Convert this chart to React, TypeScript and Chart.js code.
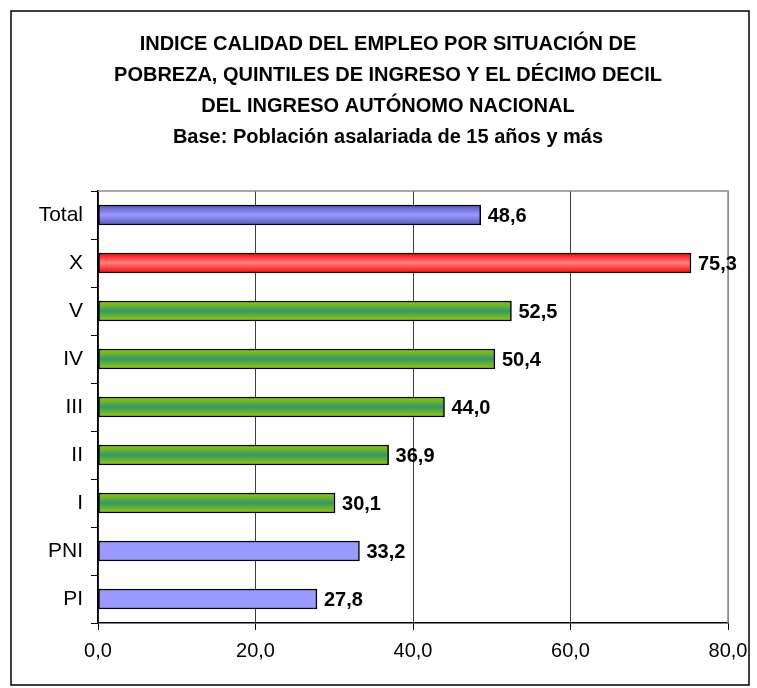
import React, { useEffect, useRef } from "react";
import { Chart, registerables } from "chart.js";

Chart.register(...registerables);

const titleLines = [
  "INDICE CALIDAD DEL EMPLEO POR SITUACIÓN DE",
  "POBREZA, QUINTILES DE INGRESO Y EL DÉCIMO DECIL",
  "DEL INGRESO AUTÓNOMO NACIONAL",
  "Base: Población asalariada de 15 años y más",
];

const categories = ["Total", "X", "V", "IV", "III", "II", "I", "PNI", "PI"];
const values = [48.6, 75.3, 52.5, 50.4, 44.0, 36.9, 30.1, 33.2, 27.8];
// colour group per bar: total / decil / quintil / pobreza
const groups = ["total", "decil", "quintil", "quintil", "quintil", "quintil", "quintil", "pobreza", "pobreza"];
const xTicks = [0, 20, 40, 60, 80];

const FONT = '"Liberation Sans", Arial, sans-serif';
const fmt = (v: number) => v.toFixed(1).replace(".", ",");

const flat: Record<string, string> = {
  total: "#8888EE",
  decil: "#FF5050",
  quintil: "#66AA33",
  pobreza: "#9999FF",
};

export default function App() {
  const ref = useRef<HTMLCanvasElement | null>(null);

  useEffect(() => {
    document.body.style.margin = "0";
    document.body.style.overflow = "hidden";
    const canvas = ref.current;
    if (!canvas) return;

    const framePlugin = {
      id: "frameTitle",
      beforeDraw(chart: any) {
        const c = chart.ctx;
        c.save();
        c.fillStyle = "#fff";
        c.fillRect(0, 0, chart.width, chart.height);
        c.strokeStyle = "#000";
        c.lineWidth = 1.5;
        c.strokeRect(11, 11, 738, 674);
        c.fillStyle = "#000";
        c.font = `bold 20px ${FONT}`;
        c.textAlign = "center";
        c.textBaseline = "middle";
        const ys = [44, 75, 106, 137];
        titleLines.forEach((t, i) => c.fillText(t, 388, ys[i]));
        c.restore();
      },
      beforeDatasetsDraw(chart: any) {
        const c = chart.ctx;
        const a = chart.chartArea;
        c.save();
        c.strokeStyle = "#8c8c8c";
        c.lineWidth = 1.5;
        c.beginPath();
        c.moveTo(a.left, a.top);
        c.lineTo(a.right, a.top);
        c.lineTo(a.right, a.bottom);
        c.stroke();
        c.restore();
      },
      afterDatasetsDraw(chart: any) {
        const c = chart.ctx;
        const meta = chart.getDatasetMeta(0);
        c.save();
        c.fillStyle = "#000";
        c.font = `bold 20px ${FONT}`;
        c.textAlign = "left";
        c.textBaseline = "middle";
        meta.data.forEach((el: any, i: number) => {
          c.fillText(fmt(values[i]), el.x + 7, el.y + 1);
        });
        c.restore();
      },
    };

    const bg = (ctx: any) => {
      const chart = ctx.chart;
      const i = ctx.dataIndex;
      if (i === undefined) return "#9999FF";
      const g = groups[i];
      const ys = chart.scales && chart.scales.y;
      if (g === "pobreza" || !ys) return flat[g];
      const y = ys.getPixelForValue(i);
      if (!Number.isFinite(y)) return flat[g];
      const gr = chart.ctx.createLinearGradient(0, y - 10, 0, y + 10);
      if (g === "quintil") {
        gr.addColorStop(0, "#99CC00");
        gr.addColorStop(0.5, "#339966");
        gr.addColorStop(1, "#99CC00");
      } else if (g === "decil") {
        gr.addColorStop(0, "#FF0000");
        gr.addColorStop(0.5, "#FF8080");
        gr.addColorStop(1, "#FF0000");
      } else {
        gr.addColorStop(0, "#5555BB");
        gr.addColorStop(0.5, "#9999FF");
        gr.addColorStop(1, "#5555BB");
      }
      return gr;
    };

    const chart = new Chart(canvas, {
      type: "bar",
      data: {
        labels: categories,
        datasets: [
          {
            data: values,
            backgroundColor: bg,
            borderColor: "#000",
            borderWidth: 1.5,
            borderSkipped: false,
            barThickness: 20,
          },
        ],
      },
      plugins: [framePlugin],
      options: {
        indexAxis: "y",
        animation: false,
        responsive: true,
        maintainAspectRatio: false,
        layout: { padding: { top: 191, right: 29, bottom: 0, left: 0 } },
        plugins: {
          legend: { display: false },
          title: { display: false },
          tooltip: { enabled: false },
        },
        scales: {
          x: {
            min: 0,
            max: 80,
            afterFit: (s: any) => {
              s.height = 65;
            },
            afterBuildTicks: (s: any) => {
              s.ticks = xTicks.map((v) => ({ value: v }));
            },
            ticks: {
              callback: (v: any) => fmt(Number(v)),
              color: "#000",
              font: { family: FONT, size: 20 },
              padding: 9,
              maxRotation: 0,
            },
            grid: {
              color: (c: any) => (c.tick && c.tick.value === 80 ? "#8c8c8c" : "#404040"),
              lineWidth: 1,
              tickColor: "#000",
              tickLength: 7,
            },
            border: { color: "#000", width: 1.5 },
          },
          y: {
            afterFit: (s: any) => {
              s.width = 98;
            },
            ticks: {
              color: "#000",
              font: { family: FONT, size: 21 },
              padding: 8,
            },
            grid: {
              drawOnChartArea: false,
              tickColor: "#000",
              tickLength: 7,
              offset: true,
            },
            border: { color: "#000", width: 1.5 },
          },
        },
      },
    } as any);

    return () => chart.destroy();
  }, []);

  return (
    <div style={{ width: 757, height: 688, position: "relative" }}>
      <canvas ref={ref} />
    </div>
  );
}
